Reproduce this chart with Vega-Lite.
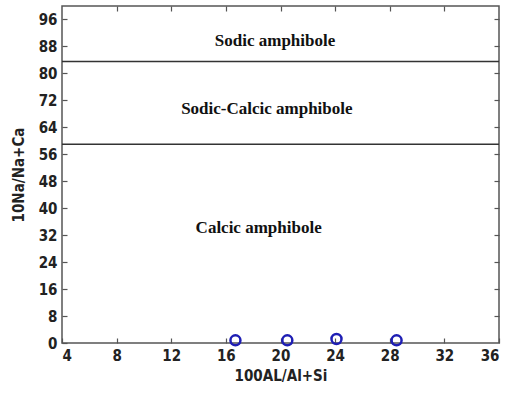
{
  "$schema": "https://vega.github.io/schema/vega-lite/v6.json",
  "width": 437,
  "height": 337,
  "autosize": "none",
  "padding": {"left": 62, "top": 6, "right": 9, "bottom": 59},
  "background": "white",
  "config": {
    "view": {"stroke": "#555", "strokeWidth": 1.5},
    "axis": {"grid": false, "domain": false, "tickColor": "#555", "tickWidth": 1.2, "labelFont": "DejaVu Sans Condensed, Liberation Sans", "labelFontWeight": "bold", "labelFontSize": 15, "labelColor": "#222", "titleFont": "DejaVu Sans Condensed, Liberation Sans", "titleFontWeight": "bold", "titleFontSize": 15, "titleColor": "#222"}
  },
  "datasets": {
    "pts": [
      {"al": 16.7, "na": 0.8},
      {"al": 20.5, "na": 0.8},
      {"al": 24.1, "na": 1.2},
      {"al": 28.5, "na": 0.8}
    ],
    "bounds": [{"v": 83.5}, {"v": 59}],
    "labels": [
      {"t": "Sodic amphibole", "al": 19.6, "na": 89.5},
      {"t": "Sodic-Calcic amphibole", "al": 19.0, "na": 69.3},
      {"t": "Calcic amphibole", "al": 18.4, "na": 34.2}
    ]
  },
  "layer": [
    {
      "data": {"name": "pts"},
      "mark": {"type": "point", "shape": "circle", "filled": false, "size": 100, "strokeWidth": 2.5, "color": "#1e1eb4", "opacity": 1},
      "encoding": {
        "x": {"field": "al", "type": "quantitative", "scale": {"domain": [4, 36], "nice": false}, "axis": {"orient": "bottom", "values": [4, 8, 12, 16, 20, 24, 28, 32, 36], "tickSize": -5, "labelPadding": 10, "title": "100AL/Al+Si", "titlePadding": 5}},
        "y": {"field": "na", "type": "quantitative", "scale": {"domain": [0, 100], "nice": false}, "axis": {"orient": "left", "values": [0, 8, 16, 24, 32, 40, 48, 56, 64, 72, 80, 88, 96], "tickSize": -5, "labelPadding": 10, "title": "10Na/Na+Ca", "titlePadding": 12}}
      }
    },
    {
      "data": {"name": "pts"},
      "mark": {"type": "point", "opacity": 0},
      "encoding": {
        "x": {"field": "al", "type": "quantitative", "scale": {"domain": [4, 36], "nice": false}, "axis": {"orient": "top", "values": [8, 12, 16, 20, 24, 28, 32], "tickSize": -5, "labels": false, "title": null}},
        "y": {"field": "na", "type": "quantitative", "scale": {"domain": [0, 100], "nice": false}, "axis": {"orient": "right", "values": [8, 16, 24, 32, 40, 48, 56, 64, 72, 80, 88, 96], "tickSize": -5, "labels": false, "title": null}}
      }
    },
    {
      "data": {"name": "bounds"},
      "mark": {"type": "rule", "color": "#333", "strokeWidth": 1.5},
      "encoding": {
        "y": {"field": "v", "type": "quantitative", "scale": {"domain": [0, 100], "nice": false}, "axis": null}
      }
    },
    {
      "data": {"name": "labels"},
      "mark": {"type": "text", "font": "Liberation Serif", "fontWeight": "bold", "fontSize": 17, "color": "#111"},
      "encoding": {
        "x": {"field": "al", "type": "quantitative", "scale": {"domain": [4, 36], "nice": false}, "axis": null},
        "y": {"field": "na", "type": "quantitative", "scale": {"domain": [0, 100], "nice": false}, "axis": null},
        "text": {"field": "t"}
      }
    }
  ],
  "resolve": {"axis": {"x": "independent", "y": "independent"}}
}
